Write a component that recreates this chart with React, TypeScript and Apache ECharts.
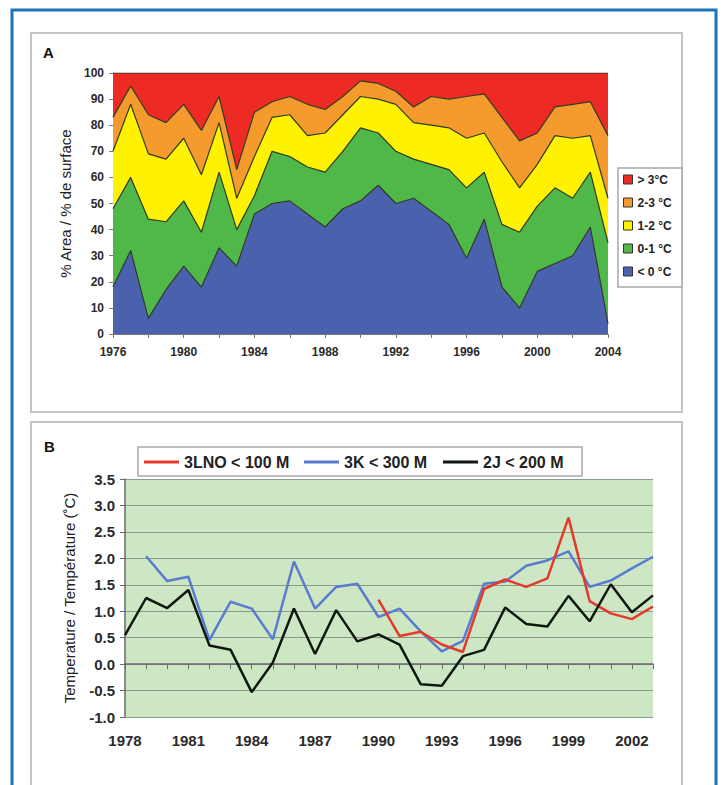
import { useEffect, useRef } from 'react';
import * as echarts from 'echarts';

// Panel A: share of area per bottom-temperature class (%), 1976-2004
const yearsA = [
  '1976', '1977', '1978', '1979', '1980', '1981', '1982', '1983', '1984', '1985',
  '1986', '1987', '1988', '1989', '1990', '1991', '1992', '1993', '1994', '1995',
  '1996', '1997', '1998', '1999', '2000', '2001', '2002', '2003', '2004',
];
const below0 = [18, 32, 6, 17, 26, 18, 33, 26, 46, 50, 51, 46, 41, 48, 51, 57, 50, 52, 47, 42, 29, 44, 18, 10, 24, 27, 30, 41, 4];
const band01 = [30, 28, 38, 26, 25, 21, 29, 14, 7, 20, 17, 18, 21, 22, 28, 20, 20, 15, 18, 21, 27, 18, 24, 29, 25, 29, 22, 21, 31];
const band12 = [22, 28, 25, 24, 24, 22, 19, 12, 15, 13, 16, 12, 15, 14, 12, 13, 18, 14, 15, 16, 19, 15, 24, 17, 16, 20, 23, 14, 17];
const band23 = [13, 7, 15, 14, 13, 17, 10, 11, 17, 6, 7, 12, 9, 7, 6, 6, 5, 6, 11, 11, 16, 15, 17, 18, 12, 11, 13, 13, 24];
const above3 = [17, 5, 16, 19, 12, 22, 9, 37, 15, 11, 9, 12, 14, 9, 3, 4, 7, 13, 9, 10, 9, 8, 17, 26, 23, 13, 12, 11, 24];
const bandNames = ['< 0 °C', '0-1 °C', '1-2 °C', '2-3 °C', '> 3°C'];

// Panel B: bottom temperature (°C) by division, 1978-2003
const yearsB = [
  '1978', '1979', '1980', '1981', '1982', '1983', '1984', '1985', '1986', '1987',
  '1988', '1989', '1990', '1991', '1992', '1993', '1994', '1995', '1996', '1997',
  '1998', '1999', '2000', '2001', '2002', '2003',
];
// 3LNO < 100 M, from 1990
const lno3 = [1.22, 0.53, 0.61, 0.37, 0.23, 1.42, 1.6, 1.46, 1.62, 2.77, 1.19, 0.96, 0.85, 1.09];
// 3K < 300 M, from 1979
const k3 = [2.04, 1.57, 1.65, 0.46, 1.18, 1.05, 0.47, 1.94, 1.05, 1.46, 1.52, 0.89, 1.05, 0.62, 0.24, 0.44, 1.52, 1.56, 1.86, 1.96, 2.13, 1.46, 1.58, 1.81, 2.03];
// 2J < 200 M, from 1978
const j2 = [0.55, 1.25, 1.06, 1.4, 0.35, 0.27, -0.53, 0.03, 1.05, 0.19, 1.02, 0.43, 0.56, 0.37, -0.38, -0.41, 0.15, 0.27, 1.07, 0.76, 0.71, 1.29, 0.81, 1.51, 0.98, 1.3];
const lineNames = ['3LNO < 100 M', '3K < 300 M', '2J < 200 M'];

const FONT = "'Liberation Sans', Arial, sans-serif";
const bandColors = ['#4a62ad', '#50b848', '#fff200', '#f59a2c', '#ee2a24'];
const lineColors = ['#e5392c', '#5a7bcf', '#101810'];

// pad a series that starts later than the first category
const alignTo = (cats: string[], firstYear: string, values: number[]) => {
  const start = cats.indexOf(firstYear);
  return cats.map((_, i) => (i >= start ? values[i - start] : null));
};

export default function App() {
  const ref = useRef<HTMLDivElement>(null);

  useEffect(() => {
    const chart = echarts.init(ref.current!, undefined, { renderer: 'svg' });
    const bands = [below0, band01, band12, band23, above3];
    const lines = [
      alignTo(yearsB, '1990', lno3),
      alignTo(yearsB, '1979', k3),
      alignTo(yearsB, '1978', j2),
    ];
    const lineLeft = [144, 304, 443];

    const axisLabelA = { color: '#2a2a2a', fontWeight: 'bold' as const, fontSize: 12, fontFamily: FONT };
    const axisLabelB = { color: '#2a2a2a', fontWeight: 'bold' as const, fontSize: 15, fontFamily: FONT };

    chart.setOption({
      animation: false,
      textStyle: { fontFamily: FONT },
      grid: [
        { left: 113, right: 115, top: 73, height: 261 },
        {
          left: 125, right: 70, top: 479, height: 238,
          show: true, backgroundColor: '#cde7c5', borderWidth: 0,
        },
      ],
      xAxis: [
        {
          gridIndex: 0, type: 'category', data: yearsA, boundaryGap: false,
          axisLine: { lineStyle: { color: '#7a7a7a', width: 1 } },
          axisTick: { interval: 1, length: 4, lineStyle: { color: '#7a7a7a' } },
          axisLabel: { ...axisLabelA, interval: 3, margin: 12 },
        },
        {
          gridIndex: 1, type: 'category', data: yearsB, boundaryGap: false,
          axisLine: { lineStyle: { color: '#6a6a6a', width: 1.5 } },
          axisTick: { interval: 0, length: 5, lineStyle: { color: '#6a6a6a' } },
          axisLabel: { ...axisLabelB, interval: 2, margin: 16 },
        },
      ],
      yAxis: [
        {
          gridIndex: 0, type: 'value', min: 0, max: 100, interval: 10,
          name: '% Area / % de surface', nameLocation: 'middle', nameGap: 36,
          nameTextStyle: { fontSize: 15, color: '#222', fontFamily: FONT },
          axisLine: { show: true, lineStyle: { color: '#7a7a7a', width: 1 } },
          axisTick: { show: true, length: 4, lineStyle: { color: '#7a7a7a' } },
          axisLabel: { ...axisLabelA, margin: 9 },
          splitLine: { show: false },
        },
        {
          gridIndex: 1, type: 'value', min: -1, max: 3.5, interval: 0.5,
          name: 'Temperature / Température (˚C)', nameLocation: 'middle', nameGap: 48,
          nameTextStyle: { fontSize: 15, color: '#222', fontFamily: FONT },
          axisLine: { show: true, lineStyle: { color: '#6a6a6a', width: 1.5 } },
          axisTick: { show: true, length: 5, lineStyle: { color: '#6a6a6a' } },
          axisLabel: { ...axisLabelB, margin: 10, formatter: (v: number) => v.toFixed(1) },
          splitLine: { show: true, lineStyle: { color: '#8a9a88', width: 1 } },
        },
      ],
      legend: [
        {
          orient: 'vertical', left: 623, top: 173, padding: 0, itemGap: 10,
          icon: 'rect', itemWidth: 9, itemHeight: 9,
          textStyle: { fontSize: 12, fontWeight: 'bold', color: '#222', lineHeight: 13, fontFamily: FONT },
          data: bandNames.map((n, i) => ({
            name: n,
            itemStyle: { color: bandColors[i], borderColor: '#333', borderWidth: 1 },
          })).reverse(),
        },
        ...lineNames.map((n, i) => ({
          left: lineLeft[i], top: 453, padding: 0,
          icon: 'rect', itemWidth: 35, itemHeight: 3,
          textStyle: { fontSize: 16, fontWeight: 'bold', color: '#222', lineHeight: 18, fontFamily: FONT },
          data: [{ name: n, itemStyle: { color: lineColors[i], borderWidth: 0 } }],
        })),
      ],
      graphic: [
        {
          type: 'rect', z: -10, silent: true,
          shape: { x: 12, y: 10, width: 704, height: 800 },
          style: { fill: 'none', stroke: '#1b75bb', lineWidth: 3 },
        },
        {
          type: 'rect', z: -10, silent: true,
          shape: { x: 31, y: 33, width: 651, height: 379 },
          style: { fill: 'none', stroke: '#c4c4c4', lineWidth: 2 },
        },
        {
          type: 'rect', z: -10, silent: true,
          shape: { x: 31, y: 422, width: 651, height: 400 },
          style: { fill: 'none', stroke: '#c4c4c4', lineWidth: 2 },
        },
        {
          type: 'rect', z: 1, silent: true,
          shape: { x: 618, y: 168, width: 64, height: 119 },
          style: { fill: '#fff', stroke: '#a8a8a8', lineWidth: 1.5 },
        },
        {
          type: 'rect', z: 1, silent: true,
          shape: { x: 138, y: 447, width: 444, height: 29 },
          style: { fill: '#fff', stroke: '#a8a8a8', lineWidth: 1.5 },
        },
        {
          type: 'text', x: 43, y: 52, silent: true,
          style: { text: 'A', font: `bold 15px ${FONT}`, fill: '#111', verticalAlign: 'middle' },
        },
        {
          type: 'text', x: 44, y: 446, silent: true,
          style: { text: 'B', font: `bold 15px ${FONT}`, fill: '#111', verticalAlign: 'middle' },
        },
      ],
      series: [
        ...bands.map((d, i) => ({
          type: 'line', name: bandNames[i], xAxisIndex: 0, yAxisIndex: 0,
          stack: 'area', data: d, symbol: 'none', showSymbol: false,
          z: 10 - i,
          lineStyle: { color: '#2f3a22', width: 1.2 },
          itemStyle: { color: bandColors[i] },
          areaStyle: { color: bandColors[i], opacity: 1 },
        })),
        ...lines.map((d, i) => ({
          type: 'line', name: lineNames[i], xAxisIndex: 1, yAxisIndex: 1,
          data: d, symbol: 'none', showSymbol: false, connectNulls: false,
          z: i === 1 ? 2 : 3,
          lineStyle: { color: lineColors[i], width: 2.5 },
          itemStyle: { color: lineColors[i] },
        })),
      ],
    });
    return () => chart.dispose();
  }, []);

  return (
    <div
      ref={ref}
      style={{ position: 'absolute', left: 0, top: 0, width: 723, height: 785, background: '#fff' }}
    />
  );
}
